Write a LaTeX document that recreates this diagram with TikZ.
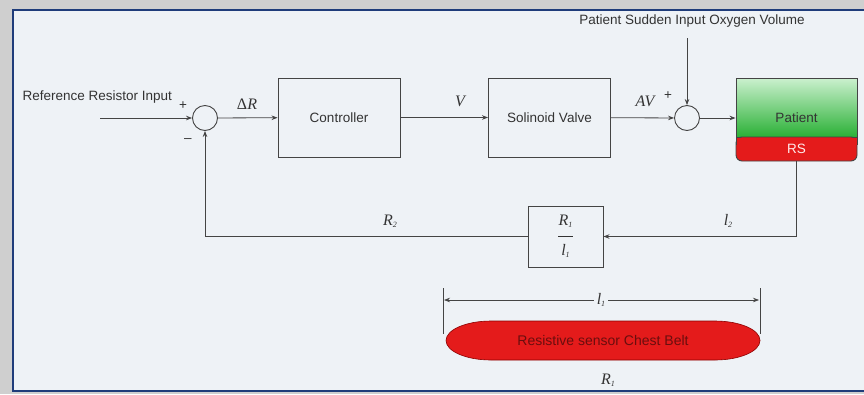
\documentclass[tikz,border=0pt]{standalone}
\usepackage{fontspec}
\setmainfont{Liberation Sans}
\newfontfamily\tms{Liberation Serif}
\usetikzlibrary{arrows.meta}
\definecolor{bg}{HTML}{EEF2F6}
\definecolor{shadowgrey}{HTML}{CFCFCF}
\definecolor{frameblue}{HTML}{1F3C7A}
\definecolor{ink}{HTML}{333333}
\definecolor{lineink}{HTML}{444444}
\definecolor{pred}{HTML}{E41B1B}
\definecolor{pgreen}{HTML}{2FC43C}
\definecolor{belttext}{HTML}{6A0E0E}
\newcommand{\vi}[2]{{\itshape #1}\raisebox{-0.3ex}{\fontsize{8}{9}\selectfont #2}}
\tikzset{
  sans/.style={font=\fontsize{13.5}{15}\selectfont, text=ink},
  mlab/.style={font=\tms\itshape\fontsize{16}{18}\selectfont, text=ink},
  blockbox/.style={draw=lineink, line width=0.9pt, sans, minimum width=122pt, minimum height=79pt, inner sep=0pt},
  sumcirc/.style={draw=lineink, line width=0.9pt, circle, minimum size=25pt, inner sep=0pt},
  arr/.style={draw=lineink, line width=0.8pt, -{Stealth[length=6pt,width=4.5pt]}},
  plain/.style={draw=lineink, line width=0.8pt},
}
\begin{document}
\begin{tikzpicture}[x=1pt,y=-1pt]
\useasboundingbox (0,0) rectangle (864,394);
\clip (0,0) rectangle (864,394);
% background and frame
\fill[shadowgrey] (0,0) rectangle (864,394);
\fill[bg] (13,10) rectangle (880,391);
\draw[frameblue, line width=2pt] (13,10) rectangle (880,391);

% input text
\node[sans, anchor=west] (reftxt) at (19,97) {Reference Resistor Input};
\coordinate (inp) at (100,118);

% summing junction 1
\node[sumcirc] (s1) at (205,118) {};
\node[sans] (plus1) at (183,106) {+};
\node[sans] (minus1) at (188,141) {--};

% blocks
\node[blockbox] (ctrl) at (339,117.5) {Controller};
\node[blockbox] (sv) at (549.5,117.5) {Solinoid Valve};

% summing junction 2
\node[sumcirc] (s2) at (687,118) {};
\node[sans, anchor=center] (disttxt) at (692,21) {Patient Sudden Input Oxygen Volume};
\coordinate (dist) at (687,38);

% patient
\node[draw=lineink, line width=0.9pt, top color=pgreen!25!white, bottom color=pgreen!90!black, minimum width=121pt, minimum height=59pt, inner sep=0pt] (pat) at (796.5,107.5) {};
\node[sans] (pattxt) at (796.5,118) {Patient};
\node[draw=lineink, line width=0.9pt, fill=pred, rounded corners=6pt, minimum width=121pt, minimum height=24pt, inner sep=0pt] (rs) at (796.5,149) {};
\fill[pred] (736.5,137.5) rectangle (856.5,145);
\draw[lineink, line width=0.9pt] (736,137) -- (736,145);
\draw[lineink, line width=0.9pt] (857,137) -- (857,145);
\node[sans, text=red!8!white] (rstxt) at (796.5,149) {RS};

% feedback block
\node[draw=lineink, line width=0.9pt, minimum width=75pt, minimum height=61pt, inner sep=0pt, mlab, align=center] (fb) at (565.5,236.5)
  {\vi{R}{1}\\[-7pt]\rule{15pt}{0.6pt}\\[1pt]\vi{l}{1}};

% connectors
\draw[arr] (inp) -- (s1);
\draw[arr] (s1) -- (ctrl);
\draw[arr] (ctrl) -- (sv);
\draw[arr] (sv) -- (s2);
\draw[arr] (dist) -- (s2);
\draw[arr] (s2) -- (s2 -| pat.west);
\draw[arr] (rs.south) |- (fb.east);
\draw[arr] (fb.west) -| (s1.south);

% labels
\node[mlab] (dR) at (247,104) {{\upshape Δ}R};
\node[mlab] (Vl) at (460,101) {V};
\node[mlab] (AVl) at (645,101) {AV};
\node[sans] (plus2) at (668,96) {+};
\node[mlab] (R2l) at (390,221) {\vi{R}{2}};
\node[mlab] (l2l) at (728,221) {\vi{l}{2}};

% belt and dimension
\coordinate (bc) at (603,340.5);
\fill[pred, draw=red!55!black, line width=0.6pt] (491,321) -- (715,321) arc[start angle=-90, end angle=90, x radius=45, y radius=19.5] -- (491,360) arc[start angle=90, end angle=270, x radius=45, y radius=19.5] -- cycle;
\node[font=\fontsize{14}{16}\selectfont, text=belttext] (belt) at (bc) {Resistive sensor Chest Belt};
\coordinate (tl0) at (443,288);
\coordinate (tl1) at (443,334);
\coordinate (tr0) at (760,288);
\coordinate (tr1) at (760,334);
\draw[plain, line width=0.7pt] (tl0) -- (tl1);
\draw[plain, line width=0.7pt] (tr0) -- (tr1);
\coordinate (dl) at (444,300);
\coordinate (dr) at (759,300);
\draw[arr, line width=0.7pt, {Stealth[length=6pt,width=4.5pt]}-{Stealth[length=6pt,width=4.5pt]}] (dl) -- (dr);
\node[mlab, fill=bg, inner sep=3pt] (l1l) at (601,300) {\vi{l}{1}};
\node[mlab] (R1l) at (608,380) {\vi{R}{1}};
\end{tikzpicture}
\end{document}
